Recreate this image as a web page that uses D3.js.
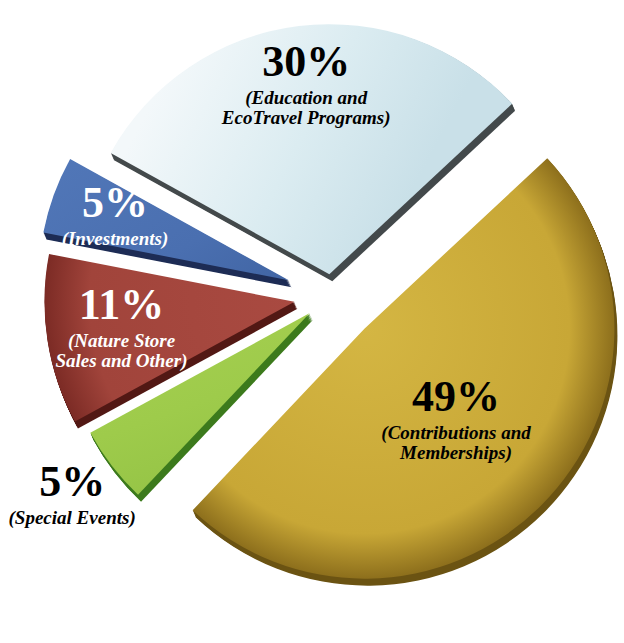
<!DOCTYPE html>
<html>
<head>
<meta charset="utf-8">
<script src="https://cdn.jsdelivr.net/npm/d3@7"></script>
<style>
  body { margin: 0; background: #ffffff; }
</style>
</head>
<body>
<div id="chart"></div>
<script>
// data
const categories = [
  "Education and EcoTravel Programs",
  "Contributions and Memberships",
  "Special Events",
  "Nature Store Sales and Other",
  "Investments",
];
const shares = [30, 49, 5, 11, 5];
const labelLines = [
  ["(Education and", "EcoTravel Programs)"],
  ["(Contributions and", "Memberships)"],
  ["(Special Events)"],
  ["(Nature Store", "Sales and Other)"],
  ["(Investments)"],
];

// layout + styles
const width = 624,
  height = 643;
const cx = 332,
  cy = 296,
  radius = 250,
  depthX = 3,
  depthY = 7;
const startDeg = -61;
const explode = [22, 46, 28, 38, 46]; // how far each slice is pulled out
const labelPos = [0.76, 0.52, 1.2, 0.7, 0.74]; // label distance, as share of radius
const faceStops = [
  ["#f3f8fa", "#dbecf1", "#c9e0e8"],
  ["#d4b643", "#c8a736", "#8d6f1c"],
  ["#b6d85c", "#9ecb4b", "#82b43b"],
  ["#a94a41", "#a1443b", "#7c2b25"],
  ["#5379ba", "#4a6fb0", "#3a5d9a"],
];
const sideFill = ["#43494b", "#6b5312", "#3c7a1c", "#521814", "#1d2c55"];
const textFill = ["#000", "#000", "#000", "#fff", "#fff"];
const pctSize = 44,
  descSize = 19,
  descGap = 28,
  lineGap = 20;

const svg = d3
  .select("#chart")
  .append("svg")
  .attr("width", width)
  .attr("height", height)
  .attr("viewBox", [0, 0, width, height]);

const defs = svg.append("defs");

const pie = d3
  .pie()
  .sort(null)
  .value((d) => d)
  .startAngle((startDeg * Math.PI) / 180)
  .endAngle((startDeg * Math.PI) / 180 + 2 * Math.PI);

const arcs = pie(shares);
const arc = d3.arc().innerRadius(0).outerRadius(radius);

// gradients: radial for gold / red (rounded rim), linear for the others
arcs.forEach((a, i) => {
  const mid = (a.startAngle + a.endAngle) / 2;
  if (i === 1 || i === 3) {
    const g = defs
      .append("radialGradient")
      .attr("id", "face" + i)
      .attr("gradientUnits", "userSpaceOnUse")
      .attr("cx", 0)
      .attr("cy", 0)
      .attr("r", radius);
    g.append("stop").attr("offset", "0%").attr("stop-color", faceStops[i][0]);
    g.append("stop").attr("offset", "82%").attr("stop-color", faceStops[i][1]);
    g.append("stop").attr("offset", "100%").attr("stop-color", faceStops[i][2]);
  } else {
    const g = defs
      .append("linearGradient")
      .attr("id", "face" + i)
      .attr("gradientUnits", "userSpaceOnUse")
      .attr("x1", -radius * 0.6)
      .attr("y1", -radius * 0.9)
      .attr("x2", radius * Math.sin(mid) * 0.3 + radius * 0.4)
      .attr("y2", -radius * Math.cos(mid) + radius * 0.6);
    g.append("stop").attr("offset", "0%").attr("stop-color", faceStops[i][0]);
    g.append("stop").attr("offset", "55%").attr("stop-color", faceStops[i][1]);
    g.append("stop").attr("offset", "100%").attr("stop-color", faceStops[i][2]);
  }
});

const slices = svg
  .selectAll("g.slice")
  .data(arcs)
  .join("g")
  .attr("class", "slice")
  .attr("transform", (a, i) => {
    const mid = (a.startAngle + a.endAngle) / 2;
    const ox = cx + explode[i] * Math.sin(mid);
    const oy = cy - explode[i] * Math.cos(mid);
    return `translate(${ox},${oy})`;
  });

// thickness: stacked copies shifted down/right
const steps = d3.range(1, 9);
slices.each(function (a, i) {
  d3.select(this)
    .selectAll("path.side")
    .data(steps)
    .join("path")
    .attr("class", "side")
    .attr("d", arc(a))
    .attr("fill", sideFill[i])
    .attr("transform", (k) => `translate(${(k * depthX) / 8},${(k * depthY) / 8})`);
});

slices
  .append("path")
  .attr("class", "face")
  .attr("d", arc)
  .attr("fill", (a, i) => `url(#face${i})`);

// labels
const labels = svg
  .selectAll("g.label")
  .data(arcs)
  .join("g")
  .attr("class", "label")
  .attr("transform", (a, i) => {
    const mid = (a.startAngle + a.endAngle) / 2;
    const d = explode[i] + labelPos[i] * radius;
    return `translate(${cx + d * Math.sin(mid)},${cy - d * Math.cos(mid)})`;
  })
  .attr("text-anchor", "middle")
  .attr("font-family", "'Liberation Serif', 'DejaVu Serif', serif")
  .attr("fill", (a, i) => textFill[i]);

const topOf = (i) => (labelLines[i].length > 1 ? -10 : 0);

labels
  .append("text")
  .attr("y", (a, i) => topOf(i))
  .attr("font-size", pctSize)
  .attr("font-weight", "bold")
  .text((a) => a.data + "%");

labels.each(function (a, i) {
  d3.select(this)
    .selectAll("text.desc")
    .data(labelLines[i])
    .join("text")
    .attr("class", "desc")
    .attr("y", (d, j) => topOf(i) + descGap + j * lineGap)
    .attr("font-size", descSize)
    .attr("font-style", "italic")
    .attr("font-weight", "bold")
    .text((d) => d);
});
</script>
</body>
</html>
